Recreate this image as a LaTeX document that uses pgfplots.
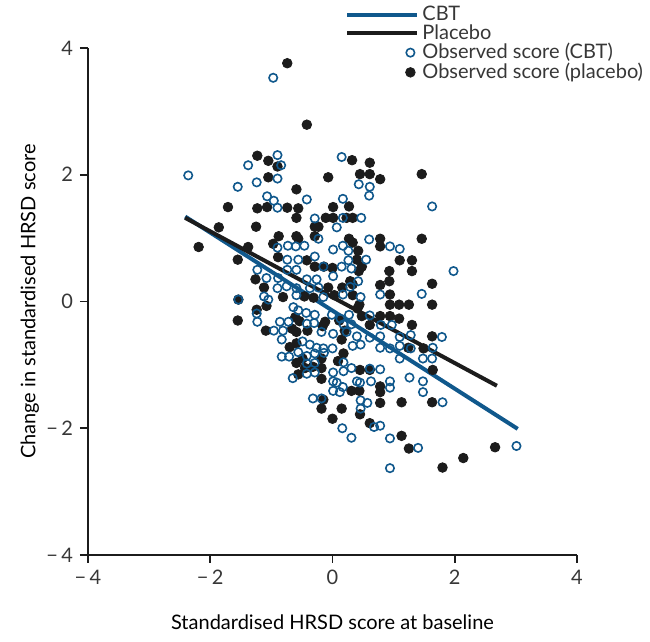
\documentclass[border=0pt]{standalone}
\usepackage{pgfplots}
\pgfplotsset{compat=1.18}
\usepackage{fontspec}
\setmainfont{Lato}
\definecolor{cbtblue}{RGB}{16,88,140}
\definecolor{plcblack}{RGB}{28,28,28}
\definecolor{txtgray}{RGB}{55,55,55}
\pgfplotsset{
  linelegend/.style={legend image code/.code={\draw[##1] (0pt,0pt) -- (35pt,0pt);}},
  marklegend/.style={legend image code/.code={\path (0pt,0pt) (35pt,0pt); \draw[##1] plot[only marks] coordinates {(31.5pt,0pt)};}},
}
\begin{document}
\begin{tikzpicture}
\path[use as bounding box] (-44pt,-43.5pt) rectangle (281pt,277.5pt);
\begin{axis}[
  scale only axis,
  width=244.5pt, height=253.5pt,
  xmin=-4, xmax=4, ymin=-4, ymax=4,
  axis x line*=bottom, axis y line*=left,
  axis line style={line width=0.8pt, color=plcblack},
  tick style={line width=0.8pt, color=plcblack},
  tick align=outside, major tick length=4pt,
  xtick={-4,-2,0,2,4}, xticklabels={−\,4,−\,2,0,2,4},
  ytick={-4,-2,0,2,4}, yticklabels={−\,4,−\,2,0,2,4},
  ticklabel style={font=\fontsize{10}{12}\selectfont, color=txtgray},
  label style={font=\fontsize{10}{12}\selectfont, color=txtgray},
  xlabel={Standardised HRSD score at baseline},
  ylabel={Change in standardised HRSD score},
  every axis x label/.style={at={(axis description cs:0.5,-0.132)}, anchor=center},
  every axis y label/.style={at={(axis description cs:-0.119,0.5)}, rotate=90, anchor=center},
  clip=false,
  legend style={at={(axis description cs:0.5256,1.09)}, anchor=north west,
    draw=none, fill=none, inner sep=0pt, row sep=-2.4pt,
    font=\fontsize{10}{12}\selectfont, text=txtgray,
    nodes={inner sep=1.5pt}},
  legend cell align=left,
]
\addplot[only marks, mark=*, mark size=2.4pt, color=plcblack, mark options={draw=none, fill=plcblack},
  forget plot] coordinates {
(-0.74,3.76) (-0.42,2.79) (-1.23,2.30) (-1.05,2.22) (-0.90,2.13) (-1.05,1.96) (-0.07,1.96)
(0.32,2.23) (0.61,2.19) (0.45,2.01) (0.61,2.01) (0.78,1.93) (1.46,2.01) (-0.59,1.77)
(-1.71,1.49) (-1.23,1.47) (-1.07,1.49) (-0.74,1.48) (-0.56,1.47) (-0.59,1.32) (0.01,1.49)
(0.27,1.50) (-0.11,1.32) (0.01,1.32) (0.23,1.32) (0.33,1.32) (-0.29,1.18) (-0.23,1.18)
(-0.29,1.03) (-1.86,1.17) (-1.25,1.18) (-0.88,1.03) (-0.59,1.03) (-0.56,0.99) (0.27,0.99)
(0.33,0.93) (0.78,0.99) (1.46,0.99) (-2.19,0.86) (-1.38,0.86) (-0.97,0.91) (0.78,0.87)
(-1.55,0.66) (-0.89,0.70) (-0.42,0.65) (0.42,0.80) (0.40,0.66) (1.10,0.65) (1.30,0.65)
(-0.29,0.55) (-0.14,0.55) (0.00,0.53) (0.48,0.55) (0.43,0.48) (0.93,0.48) (1.30,0.48)
(-1.26,0.35) (0.29,0.32) (0.33,0.27) (0.93,0.32) (0.78,0.26) (1.63,0.28) (-1.12,0.22)
(-0.07,0.22) (0.16,0.22) (-0.46,0.08) (-0.31,0.06) (-0.81,0.07) (0.03,0.10) (0.33,0.10)
(0.94,0.11) (0.44,-0.05) (0.41,-0.11) (0.94,-0.05) (1.09,-0.05) (1.25,-0.05) (1.63,-0.05)
(-1.24,-0.13) (-1.08,-0.07) (-1.55,-0.30) (-0.61,-0.25) (-0.54,-0.31) (-0.12,-0.32)
(-0.16,-0.39) (0.11,-0.30) (0.48,-0.23) (0.61,-0.37) (0.78,-0.23) (0.94,-0.23) (1.09,-0.27)
(1.30,-0.37) (-1.09,-0.46) (-0.66,-0.43) (-0.59,-0.48) (-0.41,-0.46) (0.20,-0.46)
(1.63,-0.55) (-0.59,-0.66) (0.15,-0.60) (-0.70,-0.72) (1.24,-0.73) (1.49,-0.74) (-1.54,0.03)
(-0.59,-0.97) (-0.49,-0.90) (-0.56,-1.15) (-0.45,-1.05) (-0.32,-1.03) (-0.18,-1.05)
(-0.18,-0.90) (0.09,-0.94) (0.18,-0.82) (0.45,-1.08) (0.61,-1.08) (1.64,-1.08) (-0.18,-1.22)
(0.78,-1.34) (0.78,-1.43) (0.31,-1.41) (0.44,-1.41) (-0.15,-1.55) (0.78,-1.60) (1.13,-1.59)
(1.63,-1.59) (-0.18,-1.69) (0.15,-1.69) (0.45,-1.78) (0.00,-1.85) (0.61,-1.92) (1.13,-2.12)
(1.25,-2.32) (2.14,-2.47) (2.66,-2.30) (1.80,-2.62)
};
\addplot[only marks, mark=o, mark size=2.1pt, color=cbtblue, mark options={draw=cbtblue, line width=0.8pt, fill=none},
  forget plot] coordinates {
(-0.97,3.53) (-2.36,1.99) (-1.38,2.15) (-0.90,2.31) (-0.84,2.15) (-1.55,1.81) (-1.24,1.88)
(-0.90,1.94) (-1.07,1.66) (-0.96,1.59) (-0.90,1.48) (-0.42,1.61) (0.15,2.28) (0.43,1.85)
(0.61,1.81) (0.60,1.67) (0.17,1.62) (1.63,1.50) (-0.29,1.31) (0.17,1.32) (0.47,1.32)
(0.07,1.17) (-0.23,0.99) (0.60,0.98) (0.94,0.87) (1.10,0.83) (-0.90,0.85) (-0.73,0.88)
(-0.60,0.87) (-0.46,0.88) (0.01,0.82) (0.17,0.88) (0.26,0.80) (-0.74,0.66) (-0.56,0.66)
(-0.29,0.71) (0.26,0.65) (0.55,0.66) (-1.23,0.50) (-0.74,0.50) (-0.59,0.50) (-0.15,0.55)
(0.15,0.55) (0.31,0.52) (1.98,0.48) (-1.08,0.37) (-0.89,0.37) (-0.42,0.35) (-0.26,0.35)
(0.01,0.40) (0.42,0.32) (-0.90,0.21) (-0.75,0.24) (-0.59,0.21) (-0.37,0.21) (-0.23,0.22)
(0.29,0.23) (-1.54,0.03) (-1.12,0.08) (-1.05,0.03) (-0.59,0.10) (-0.15,0.07) (0.17,0.11)
(0.46,0.07) (0.78,0.11) (1.46,0.12) (-0.64,-0.09) (-0.56,-0.14) (-0.43,-0.18) (-0.29,-0.21)
(-1.24,-0.19) (-1.23,-0.32) (-0.01,-0.21) (0.13,-0.27) (0.27,-0.21) (0.61,-0.22)
(-0.86,-0.32) (-0.72,-0.32) (-0.42,-0.35) (-0.30,-0.34) (0.18,-0.36) (0.31,-0.36)
(0.79,-0.37) (0.97,-0.37) (-0.96,-0.46) (-0.81,-0.46) (-0.18,-0.48) (0.01,-0.51) (0.23,-0.48)
(0.40,-0.55) (0.61,-0.57) (0.78,-0.55) (1.10,-0.56) (1.28,-0.53) (1.79,-0.56) (-0.83,-0.60)
(-0.49,-0.63) (-0.37,-0.68) (-0.26,-0.73) (-0.15,-0.74) (0.00,-0.74) (0.33,-0.70)
(0.46,-0.68) (0.78,-0.73) (0.94,-0.74) (1.10,-0.70) (1.28,-0.74) (1.64,-0.73) (-0.83,-0.87)
(-0.71,-0.87) (-0.56,-0.80) (-0.42,-0.86) (-0.29,-0.82) (-0.14,-0.81) (-0.42,-0.98)
(-0.29,-0.97) (0.18,-0.96) (0.31,-1.05) (0.61,-1.06) (0.78,-1.07) (1.10,-0.90) (1.48,-0.90)
(1.63,-0.90) (-0.42,-1.14) (-0.29,-1.12) (-0.65,-1.21) (0.01,-1.12) (0.18,-1.10) (0.01,-1.26)
(0.07,-1.28) (0.17,-1.35) (0.40,-1.26) (0.45,-1.28) (0.63,-1.26) (0.94,-1.26) (0.94,-1.36)
(1.26,-1.20) (1.48,-1.26) (1.48,-1.43) (0.01,-1.41) (0.12,-1.43) (-0.32,-1.53) (-0.18,-1.53)
(0.46,-1.56) (0.57,-1.60) (0.46,-1.69) (1.80,-1.59) (0.68,-1.98) (0.78,-1.96) (0.16,-2.00)
(0.31,-2.15) (0.94,-2.16) (1.40,-2.31) (3.01,-2.28) (0.94,-2.63)
};
\addplot[color=cbtblue, line width=2pt, linelegend]
  coordinates {(-2.41,1.34) (3.03,-2.01)};
\addlegendentry{CBT}
\addplot[color=plcblack, line width=2pt, linelegend]
  coordinates {(-2.41,1.32) (2.69,-1.33)};
\addlegendentry{Placebo}
\addlegendimage{only marks, mark=o, mark size=2.1pt, color=cbtblue, mark options={draw=cbtblue, line width=0.8pt, fill=none}, marklegend}
\addlegendentry{Observed score (CBT)}
\addlegendimage{only marks, mark=*, mark size=2.4pt, color=plcblack, mark options={draw=none, fill=plcblack}, marklegend}
\addlegendentry{Observed score (placebo)}
\end{axis}
\end{tikzpicture}
\end{document}
